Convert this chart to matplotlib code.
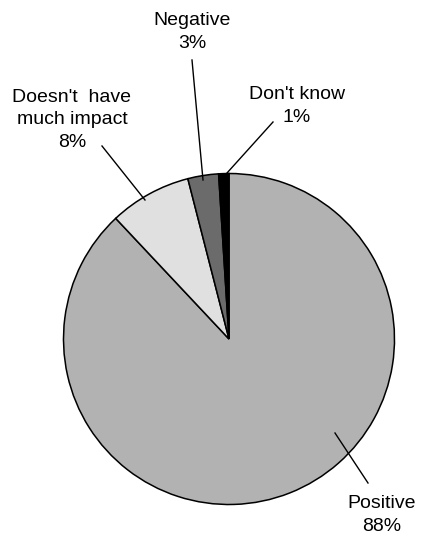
import matplotlib
matplotlib.use('Agg')
import matplotlib.pyplot as plt

plt.rcParams['font.family'] = ['Liberation Sans', 'DejaVu Sans']

# survey answers, clockwise from 12 o'clock
labels = ['Positive', "Doesn't  have\nmuch impact", 'Negative', "Don't know"]
values = [88, 8, 3, 1]
colors = ['#b2b2b2', '#e0e0e0', '#6b6b6b', '#000000']

# label block centres and leader lines, in pixels from top-left
label_pos = [(382, 515), (72, 120), (192, 32), (297, 106)]
leaders = [((335, 433), (368, 483)),
           ((102, 146), (145, 200)),
           ((192, 60), (203, 180)),
           ((273, 122), (227, 173))]

W, H = 422, 539
fig = plt.figure(figsize=(W / 100, H / 100), dpi=100)
ax = fig.add_axes([0, 0, 1, 1])

ax.pie(values, colors=colors, startangle=90, counterclock=False,
       center=(229, H - 339), radius=165.5, frame=True,
       wedgeprops=dict(edgecolor='black', linewidth=1.1))
ax.set_xlim(0, W)
ax.set_ylim(0, H)
ax.set_aspect('equal')
ax.axis('off')

for lab, val, (x, y), (p0, p1) in zip(labels, values, label_pos, leaders):
    ax.text(x, H - y, f'{lab}\n{val}%', ha='center', va='center',
            fontsize=14, linespacing=1.45, color='black')
    ax.plot([p0[0], p1[0]], [H - p0[1], H - p1[1]], color='black', lw=1)

fig.savefig('out.png', dpi=100)
